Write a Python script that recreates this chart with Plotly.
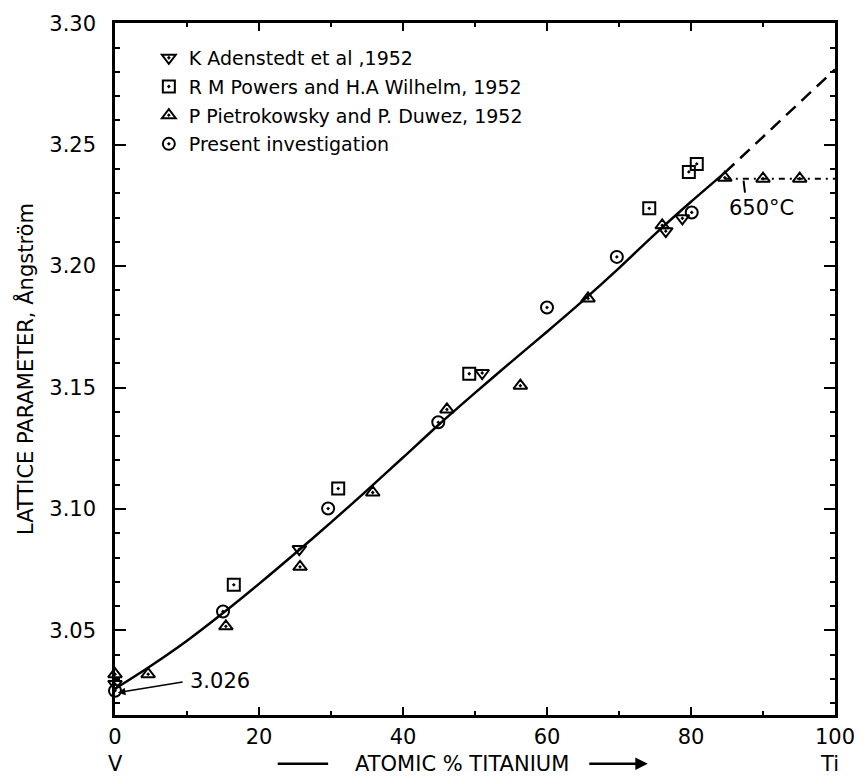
import plotly.graph_objects as go

# ---- data ----
adenstedt_x = [0, 25.6, 51.0, 76.5, 78.8]
adenstedt_y = [3.028, 3.0835, 3.156, 3.2144, 3.2197]

powers_x = [16.5, 31.0, 49.2, 74.2, 79.7, 80.8]
powers_y = [3.0688, 3.1084, 3.1557, 3.2238, 3.2388, 3.2421]

pietro_x = [0, 4.6, 15.4, 25.7, 35.8, 46.1, 56.3, 65.7, 76.0, 84.7, 90.0, 95.1]
pietro_y = [3.032, 3.032, 3.0517, 3.0762, 3.1068, 3.141, 3.1508, 3.1867, 3.2168, 3.2364, 3.236, 3.236]

present_x = [0, 15.0, 29.6, 44.9, 60.0, 69.7, 80.1]
present_y = [3.0252, 3.0578, 3.1002, 3.1357, 3.183, 3.2038, 3.2221]

curve_x = [0, 5, 10, 15, 20, 25, 30, 35, 40, 45, 50, 55, 60, 65, 70, 75, 80, 84.7]
curve_y = [3.026, 3.0355, 3.0458, 3.0572, 3.0692, 3.0817, 3.0945, 3.1077, 3.1212, 3.1348,
           3.1478, 3.1605, 3.1730, 3.1858, 3.1992, 3.2132, 3.2265, 3.2385]

extrap_x = [84.7, 100]
extrap_y = [3.2385, 3.281]

hold_x = [84.7, 100]
hold_y = [3.236, 3.236]

y_ticks = [3.05, 3.10, 3.15, 3.20, 3.25, 3.30]
y_ticklabels = ["3.05", "3.10", "3.15", "3.20", "3.25", "3.30"]
x_ticks = [0, 20, 40, 60, 80, 100]
x_ticklabels = ["0", "20", "40", "60", "80", "100"]

FONT = "DejaVu Sans"
BLACK = "black"

fig = go.Figure()

fig.add_trace(go.Scatter(x=curve_x, y=curve_y, mode="lines",
                         line=dict(color=BLACK, width=2.5, shape="spline", smoothing=0.8),
                         showlegend=False, hoverinfo="skip"))
fig.add_trace(go.Scatter(x=extrap_x, y=extrap_y, mode="lines",
                         line=dict(color=BLACK, width=2.5, dash="13px,8px"), showlegend=False,
                         hoverinfo="skip", cliponaxis=False))
fig.add_trace(go.Scatter(x=hold_x, y=hold_y, mode="lines",
                         line=dict(color=BLACK, width=2, dash="6px,5px,2px,5px"), showlegend=False,
                         hoverinfo="skip"))

def mk(symbol):
    return dict(symbol=symbol, size=12, color=BLACK, line=dict(color=BLACK, width=2))

series = [
    ("K Adenstedt et al ,1952", adenstedt_x, adenstedt_y, "triangle-down-open-dot"),
    ("R M Powers and H.A Wilhelm, 1952", powers_x, powers_y, "square-open-dot"),
    ("P Pietrokowsky and P. Duwez, 1952", pietro_x, pietro_y, "triangle-up-open-dot"),
    ("Present investigation", present_x, present_y, "circle-open-dot"),
]
for i, (name, xs, ys, sym) in enumerate(series):
    fig.add_trace(go.Scatter(x=xs, y=ys, mode="markers", name=name, marker=mk(sym),
                             cliponaxis=False, legendgroup=f"g{i}"))

axis_common = dict(showline=True, linecolor=BLACK, linewidth=2.5, mirror="allticks",
                   ticks="inside", tickcolor=BLACK, tickwidth=2, showgrid=False, zeroline=False)

fig.update_xaxes(range=[0, 100], tickvals=x_ticks, ticktext=x_ticklabels, ticklen=8,
                 minor=dict(dtick=10, tick0=0, ticks="inside", ticklen=4, tickcolor=BLACK, tickwidth=1.5),
                 ticklabelstandoff=1, tickfont=dict(family=FONT, size=21, color=BLACK), **axis_common)
fig.update_yaxes(range=[3.0152, 3.3001], tickvals=y_ticks, ticktext=y_ticklabels, ticklen=11,
                 minor=dict(dtick=0.01, tick0=3.0, ticks="inside", ticklen=5, tickcolor=BLACK, tickwidth=1.5),
                 ticklabelstandoff=12, tickfont=dict(family=FONT, size=21, color=BLACK), **axis_common)

ROW2 = -0.0705

annotations = [
    dict(text="LATTICE PARAMETER, Ångström", xref="paper", yref="paper", x=-0.125, y=0.5,
         textangle=-90, showarrow=False, font=dict(family=FONT, size=21, color=BLACK),
         xanchor="center", yanchor="middle"),
    dict(text="ATOMIC % TITANIUM", xref="x", yref="paper", x=48.2, y=ROW2,
         showarrow=False, font=dict(family=FONT, size=21, color=BLACK), xanchor="center", yanchor="middle"),
    dict(text="V", xref="x", yref="paper", x=0, y=ROW2, showarrow=False,
         font=dict(family=FONT, size=21, color=BLACK), xanchor="center", yanchor="middle"),
    dict(text="Ti", xref="x", yref="paper", x=99.3, y=ROW2, showarrow=False,
         font=dict(family=FONT, size=21, color=BLACK), xanchor="center", yanchor="middle"),
    dict(text="", xref="x", yref="paper", x=74.0, y=ROW2, ax=-60, ay=0,
         showarrow=True, arrowhead=2, arrowsize=1, arrowwidth=2.5, arrowcolor=BLACK),
    dict(text="650°C", xref="x", yref="y", x=89.8, y=3.2238, showarrow=False,
         font=dict(family=FONT, size=21, color=BLACK), xanchor="center", yanchor="middle"),
    dict(text="3.026", xref="x", yref="y", x=14.6, y=3.0293, showarrow=False,
         font=dict(family=FONT, size=21, color=BLACK), xanchor="center", yanchor="middle"),
    dict(text="", xref="x", yref="y", x=0.4, y=3.0244, ax=9.6, ay=3.0289, axref="x", ayref="y",
         showarrow=True, arrowhead=2, arrowsize=1, arrowwidth=1.5, arrowcolor=BLACK),
]

shapes = [
    dict(type="line", xref="x", yref="paper", x0=22.6, x1=29.6, y0=ROW2, y1=ROW2,
         line=dict(color=BLACK, width=2.5)),
    dict(type="line", xref="x", yref="y", x0=87.3, x1=87.5, y0=3.2352, y1=3.2303,
         line=dict(color=BLACK, width=2)),
]

fig.update_layout(
    width=867, height=779,
    margin=dict(l=115, r=32, t=16, b=64),
    paper_bgcolor="white", plot_bgcolor="white",
    font=dict(family=FONT, color=BLACK),
    showlegend=True,
    legend=dict(x=0.047, y=0.977, xanchor="left", yanchor="top", bgcolor="rgba(0,0,0,0)",
                font=dict(family=FONT, size=19, color=BLACK), tracegroupgap=1, itemwidth=30),
    annotations=annotations,
    shapes=shapes,
)

fig.write_html("out.html", config={"displayModeBar": False},
               post_script="document.body.style.margin='0px';document.body.style.overflow='hidden';")
